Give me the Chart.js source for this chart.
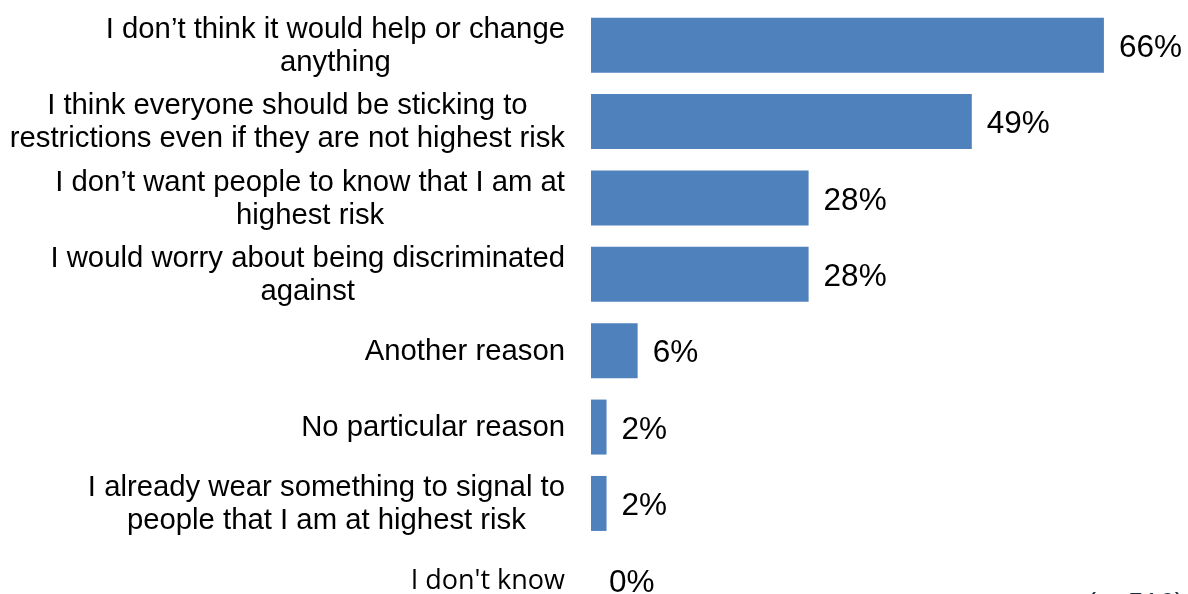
<!DOCTYPE html>
<html>
<head>
<meta charset="utf-8">
<script src="https://cdn.jsdelivr.net/npm/chart.js@4/dist/chart.umd.min.js"></script>
<style>
  html, body { margin: 0; padding: 0; background: #fff; overflow: hidden; }
  #wrap { width: 1188px; height: 594px; overflow: hidden; position: relative; }
  canvas { display: block; }
</style>
</head>
<body>
<div id="wrap"><canvas id="reasons" width="1188" height="640"></canvas></div>
<script>
var labels = [
  ['I don\u2019t think it would help or change', 'anything'],
  ['I think everyone should be sticking to', 'restrictions even if they are not highest risk'],
  ['I don\u2019t want people to know that I am at', 'highest risk'],
  ['I would worry about being discriminated', 'against'],
  'Another reason',
  'No particular reason',
  ['I already wear something to signal to', 'people that I am at highest risk'],
  "I don't know"
];
var values = [66, 49, 28, 28, 6, 2, 2, 0];
var baseNote = '(n=516)';

var labelFont = '29.3px "Liberation Sans", Arial, sans-serif';
var lastFont = '27px "Open Sans", sans-serif';

// category labels: each block right aligned, its lines centred on each other
var categoryLabels = {
  id: 'categoryLabels',
  afterDraw: function (chart) {
    var ctx = chart.ctx;
    var y = chart.scales.y;
    var right = chart.chartArea.left - 26;
    ctx.save();
    ctx.fillStyle = '#000';
    ctx.textAlign = 'center';
    ctx.textBaseline = 'middle';
    labels.forEach(function (lab, i) {
      var lines = Array.isArray(lab) ? lab : [lab];
      ctx.font = i === 7 ? lastFont : labelFont;
      var w = Math.max.apply(null, lines.map(function (l) { return ctx.measureText(l).width; }));
      var cy = y.getPixelForTick(i);
      var top = cy - (lines.length - 1) * 16.5;
      lines.forEach(function (l, k) {
        ctx.fillText(l, right - w / 2, top + k * 33 + 1);
      });
    });
    ctx.restore();
  }
};

// percentage next to each bar plus the base size note
var valueLabels = {
  id: 'valueLabels',
  afterDatasetsDraw: function (chart) {
    var ctx = chart.ctx;
    var meta = chart.getDatasetMeta(0);
    ctx.save();
    ctx.fillStyle = '#000';
    ctx.font = '31.5px "Liberation Sans", Arial, sans-serif';
    ctx.textAlign = 'left';
    ctx.textBaseline = 'middle';
    meta.data.forEach(function (bar, i) {
      var x = Math.max(bar.x, chart.chartArea.left + 3);
      ctx.fillText(values[i] + '%', x + 15, bar.y + 3);
    });
    ctx.textAlign = 'right';
    ctx.font = '28px "Liberation Sans", Arial, sans-serif';
    ctx.fillStyle = '#1f2d3d';
    ctx.fillText(baseNote, 1184, 604);
    ctx.restore();
  }
};

new Chart(document.getElementById('reasons'), {
  type: 'bar',
  data: {
    labels: labels,
    datasets: [{
      data: values,
      backgroundColor: '#4f81bd',
      borderWidth: 0,
      categoryPercentage: 0.72,
      barPercentage: 1
    }]
  },
  options: {
    indexAxis: 'y',
    responsive: false,
    animation: false,
    layout: { padding: { top: 7, bottom: 22, left: 0, right: 53 } },
    plugins: {
      legend: { display: false },
      tooltip: { enabled: false }
    },
    scales: {
      x: {
        display: false,
        min: 0,
        max: 70
      },
      y: {
        afterFit: function (scale) {
          scale.width = 591;
          scale.paddingTop = 0;
          scale.paddingBottom = 0;
        },
        grid: { display: false, drawTicks: false },
        border: { display: false },
        ticks: { display: false, autoSkip: false }
      }
    }
  },
  plugins: [valueLabels, categoryLabels]
});
</script>
</body>
</html>
